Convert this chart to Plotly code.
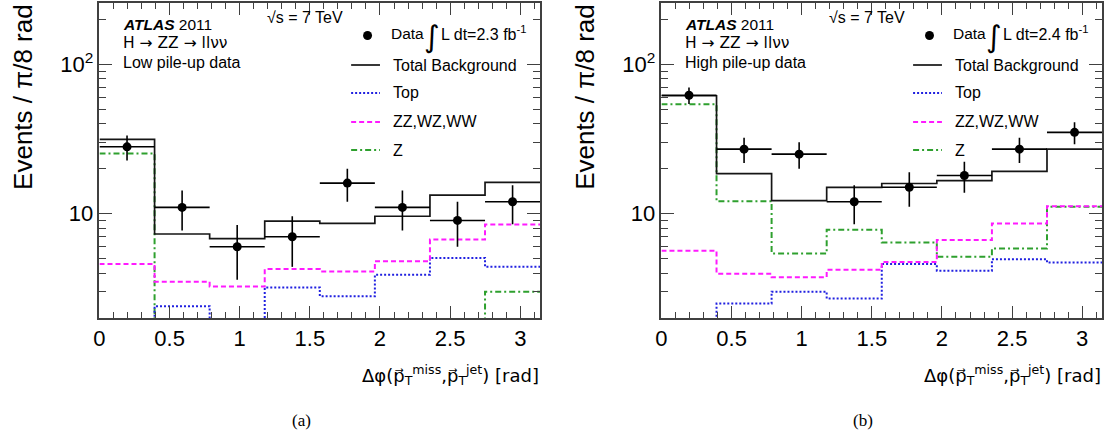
import math
import plotly.graph_objects as go

W, H = 1114, 435

# ---------------- data ----------------
bin_edges = [i * math.pi / 8 for i in range(9)]
bin_centers = [(bin_edges[i] + bin_edges[i + 1]) / 2 for i in range(8)]
bin_half = [math.pi / 16] * 8

# panel (a): low pile-up
data_a = [28, 11, 6, 7, 16, 11, 9, 12]
data_err_a = [5.3, 3.3, 2.4, 2.6, 4.0, 3.3, 3.0, 3.5]
total_a = [31.4, 7.3, 6.8, 8.9, 8.6, 9.6, 13.3, 16.2]
top_a = [0, 2.4, 0, 3.2, 2.8, 3.9, 5.05, 4.4]
diboson_a = [4.6, 3.5, 3.25, 4.25, 4.1, 4.8, 6.7, 8.45]
z_a = [25.3, 0, 0, 0, 0, 0, 0, 3.0]

# panel (b): high pile-up
data_b = [62, 27, 25, 12, 15, 18, 27, 35]
data_err_b = [7.9, 5.2, 5.0, 3.5, 3.9, 4.2, 5.2, 5.9]
total_b = [61.5, 18.5, 12.2, 15.0, 15.9, 16.6, 19.2, 27.0]
top_b = [0, 2.5, 3.0, 2.7, 4.6, 4.15, 4.95, 4.7]
diboson_b = [5.65, 3.95, 3.75, 4.2, 4.75, 6.65, 8.6, 11.2]
z_b = [54, 12.1, 5.4, 7.8, 6.4, 5.15, 5.85, 11.1]

x_tick_vals = [0, 0.5, 1, 1.5, 2, 2.5, 3]
x_tick_text = ["0", "0.5", "1", "1.5", "2", "2.5", "3"]
y_tick_vals = [10, 100]
y_tick_text = ["10", "10<sup>2</sup>"]
y_minor_vals = [2, 3, 4, 5, 6, 7, 8, 9, 20, 30, 40, 50, 60, 70, 80, 90, 200]

lumi_a = "2.3"
lumi_b = "2.4"
label_a = "Low pile-up data"
label_b = "High pile-up data"

# ---------------- style ----------------
FONT = "Liberation Sans"
C_TOP = "#2020e0"
C_DIB = "#ff1aff"
C_Z = "#2ea02e"
C_TOT = "#151515"
FRAME = "#404040"
DASH_TOP = "2px,2px"
DASH_DIB = "5px,3px"
DASH_Z = "6px,3px,2px,3px"

# frame geometry (pixels)
FRAME_L = [94, 659]
FRAME_W = 443
FRAME_T, FRAME_B = 3, 318
YMIN, YMAX = math.log10(2), 2.41

FLOOR = 1e-2


def step_trace(vals, color, dash, width, xa, ya):
    yv = [v if v > 0 else FLOOR for v in vals]
    return go.Scatter(x=bin_edges, y=yv + [yv[-1]], mode="lines",
                      line=dict(color=color, width=width, dash=dash, shape="hv"),
                      xaxis=xa, yaxis=ya, hoverinfo="skip")


fig = go.Figure()
panels = [
    (data_a, data_err_a, total_a, top_a, diboson_a, z_a, "x", "y"),
    (data_b, data_err_b, total_b, top_b, diboson_b, z_b, "x2", "y2"),
]
for d, de, tot, tp, dib, zz, xa, ya in panels:
    fig.add_trace(step_trace(zz, C_Z, DASH_Z, 2, xa, ya))
    fig.add_trace(step_trace(tp, C_TOP, DASH_TOP, 2, xa, ya))
    fig.add_trace(step_trace(dib, C_DIB, DASH_DIB, 2, xa, ya))
    fig.add_trace(step_trace(tot, C_TOT, None, 1.7, xa, ya))
    fig.add_trace(go.Scatter(
        x=bin_centers, y=d, mode="markers",
        marker=dict(color="black", size=9),
        error_y=dict(type="data", array=de, visible=True, color="black", thickness=1.6, width=0),
        error_x=dict(type="data", array=bin_half, visible=True, color="black", thickness=1.6, width=0),
        xaxis=xa, yaxis=ya, hoverinfo="skip"))


def xaxis_cfg(i):
    l = FRAME_L[i]
    return dict(
        domain=[l / W, (l + FRAME_W) / W], range=[0, math.pi],
        anchor="y" if i == 0 else "y2",
        showline=True, linecolor=FRAME, linewidth=1.5, mirror="ticks",
        ticks="inside", ticklen=12, tickwidth=1, tickcolor=FRAME,
        tickvals=x_tick_vals, ticktext=x_tick_text,
        tickfont=dict(family=FONT, size=22, color="black"),
        minor=dict(ticks="inside", dtick=0.1, tick0=0, ticklen=6, tickwidth=1, tickcolor=FRAME),
        showgrid=False, zeroline=False, fixedrange=True)


def yaxis_cfg(i):
    return dict(
        domain=[1 - FRAME_B / H, 1 - FRAME_T / H], type="log", range=[YMIN, YMAX],
        anchor="x" if i == 0 else "x2",
        showline=True, linecolor=FRAME, linewidth=1.5, mirror="ticks",
        ticks="inside", ticklen=13, tickwidth=1, tickcolor=FRAME,
        tickmode="array", tickvals=y_tick_vals, ticktext=y_tick_text,
        tickfont=dict(family=FONT, size=22, color="black"),
        minor=dict(ticks="inside", tickmode="array", tickvals=y_minor_vals,
                   ticklen=7, tickwidth=1, tickcolor=FRAME),
        showgrid=False, zeroline=False, fixedrange=True)


annotations = []
shapes = []


def P(x, y):
    return x / W, 1 - y / H


def ann(text, x, y, size, xanchor="left", yanchor="middle", family=FONT, textangle=0, color="black"):
    px, py = P(x, y)
    annotations.append(dict(text=text, x=px, y=py, xref="paper", yref="paper",
                            showarrow=False, xanchor=xanchor, yanchor=yanchor,
                            textangle=textangle, borderpad=0,
                            font=dict(family=family, size=size, color=color)))


def hline(x0, x1, y, color, dash, width):
    a0, b0 = P(x0, y)
    a1, _ = P(x1, y)
    shapes.append(dict(type="line", xref="paper", yref="paper", x0=a0, x1=a1, y0=b0, y1=b0,
                       line=dict(color=color, dash=dash, width=width)))


for i, (lumi, lab) in enumerate([(lumi_a, label_a), (lumi_b, label_b)]):
    dx = FRAME_L[i] - FRAME_L[0]
    R = FRAME_L[i] + FRAME_W
    # y-axis title
    ann("Events / π/8 rad", 17 + dx, 97, 26, xanchor="center", textangle=-90)
    # ATLAS labels
    ann("<b><i>ATLAS</i></b> 2011", 117 + dx, 24, 15.5)
    ann("H → ZZ → llνν", 117 + dx, 43.5, 15.5, family="DejaVu Sans")
    ann(lab, 117 + dx, 62, 16)
    ann("√s = 7 TeV", 340 + dx, 17, 16, xanchor="right")
    # legend
    cx, cy = 363.5 + dx, 35.5
    a0, b0 = P(cx - 4.5, cy - 4.5)
    a1, b1 = P(cx + 4.5, cy + 4.5)
    shapes.append(dict(type="circle", xref="paper", yref="paper", x0=a0, x1=a1, y0=b1, y1=b0,
                       fillcolor="black", line=dict(color="black", width=0)))
    ann("Data", 386 + dx, 33, 15.5)
    ann("∫", 428 + dx, 37, 30, xanchor="center", family="DejaVu Sans")
    ann("L dt=" + lumi + " fb<sup>-1</sup>", 436 + dx, 33, 16)
    rows = [("Total Background", C_TOT, None, 1.7, 65),
            ("Top", C_TOP, DASH_TOP, 2, 93),
            ("ZZ,WZ,WW", C_DIB, DASH_DIB, 2, 122),
            ("Z", C_Z, DASH_Z, 2, 150)]
    for txt, col, dsh, wd, yy in rows:
        hline(347 + dx, 376 + dx, yy, col, dsh, wd)
        ann(txt, 388 + dx, yy, 16)
    # x-axis title
    ann("Δφ(p\u20d7<sub>T</sub><sup>miss</sup>,p\u20d7<sub>T</sub><sup>jet</sup>) [rad]",
        R, 375, 18, xanchor="right", family="DejaVu Sans")

ann("(a)", 297, 420, 17, xanchor="center", family="Liberation Serif")
ann("(b)", 862, 420, 17, xanchor="center", family="Liberation Serif")

fig.update_layout(
    width=W, height=H, margin=dict(l=0, r=0, t=0, b=0),
    paper_bgcolor="white", plot_bgcolor="white", showlegend=False,
    xaxis=xaxis_cfg(0), yaxis=yaxis_cfg(0),
    xaxis2=xaxis_cfg(1), yaxis2=yaxis_cfg(1),
    annotations=annotations, shapes=shapes,
)

fig.write_html("out.html", config={"displayModeBar": False},
               post_script="document.body.style.margin='0';document.body.style.overflow='hidden';")
